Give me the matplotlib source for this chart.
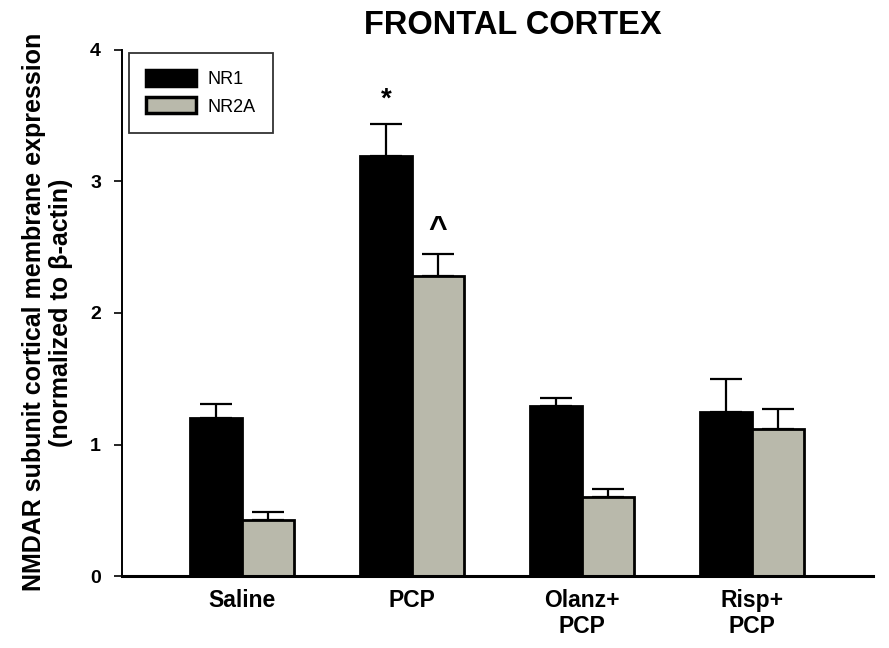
import numpy as np
import matplotlib
matplotlib.use("Agg")
import matplotlib.pyplot as plt

plt.rcParams.update({
    "font.family": ["Liberation Sans", "DejaVu Sans"],
    "font.weight": "bold",
})

# ── Data ──────────────────────────────────────────────────────────────────────
groups = ["Saline", "PCP", "Olanz+\nPCP", "Risp+\nPCP"]
nr1_mean = [1.20, 3.19, 1.29, 1.25]
nr1_err = [0.11, 0.25, 0.06, 0.25]
nr2a_mean = [0.43, 2.28, 0.60, 1.12]
nr2a_err = [0.06, 0.17, 0.06, 0.15]
series_labels = ["NR1", "NR2A"]

# ── Figure ────────────────────────────────────────────────────────────────────
fig = plt.figure(figsize=(8.89, 6.48), dpi=100)
ax = fig.add_axes([0.137, 0.111, 0.845, 0.812])

x = np.arange(len(groups))
w = 0.306
gray = "#B9B9AB"

ax.bar(x - w / 2, nr1_mean, w, color="black", edgecolor="black",
       linewidth=2, label=series_labels[0], zorder=2)
ax.bar(x + w / 2, nr2a_mean, w, color=gray, edgecolor="black",
       linewidth=2, label=series_labels[1], zorder=2)
ax.errorbar(x - w / 2, nr1_mean, yerr=[np.zeros(4), nr1_err], fmt="none",
            ecolor="black", elinewidth=1.6, capsize=11.5, capthick=1.6, zorder=1)
ax.errorbar(x + w / 2, nr2a_mean, yerr=[np.zeros(4), nr2a_err], fmt="none",
            ecolor="black", elinewidth=1.6, capsize=11.5, capthick=1.6, zorder=1)

# significance marks
ax.text(x[1] - w / 2, nr1_mean[1] + nr1_err[1] + 0.08, "*", ha="center",
        va="bottom", fontsize=20, fontweight="bold")
ax.text(x[1] + w / 2, nr2a_mean[1] + nr2a_err[1] + 0.07, "^", ha="center",
        va="bottom", fontsize=23, fontweight="bold")

ax.set_xlim(-0.706, 3.71)
ax.set_ylim(0, 4)
ax.set_yticks([0, 1, 2, 3, 4])
ax.set_xticks(x)
ax.set_xticklabels(groups, fontsize=16.5, fontweight="bold", linespacing=1.2)
ax.tick_params(axis="x", length=0, pad=9)
ax.tick_params(axis="y", direction="out", length=6, width=1.2, labelsize=14, pad=9)
for lbl in ax.get_yticklabels():
    lbl.set_fontweight("bold")

ax.spines["top"].set_visible(False)
ax.spines["right"].set_visible(False)
ax.spines["bottom"].set_linewidth(2.2)
ax.spines["left"].set_linewidth(1.4)

fig.text(0.053, 0.518,
         "NMDAR subunit cortical membrane expression\n(normalized to \u03b2-actin)",
         rotation=90, ha="center", va="center", multialignment="center",
         fontsize=18, fontweight="bold", linespacing=1.15)
fig.text(0.577, 0.961, "FRONTAL CORTEX", ha="center", va="center",
         fontsize=23.5, fontweight="bold")

leg = ax.legend(loc="upper left", bbox_to_anchor=(0.0093, 0.9943), fontsize=13,
                frameon=True, fancybox=False, edgecolor="black",
                handlelength=2.8, handleheight=1.0, handletextpad=0.6,
                borderpad=0.95, labelspacing=0.5, borderaxespad=0.0)
leg.get_frame().set_linewidth(1.3)
for t in leg.get_texts():
    t.set_fontweight("normal")
for p in leg.get_patches():
    p.set_linewidth(2.5)

fig.savefig("out.png", dpi=100)
